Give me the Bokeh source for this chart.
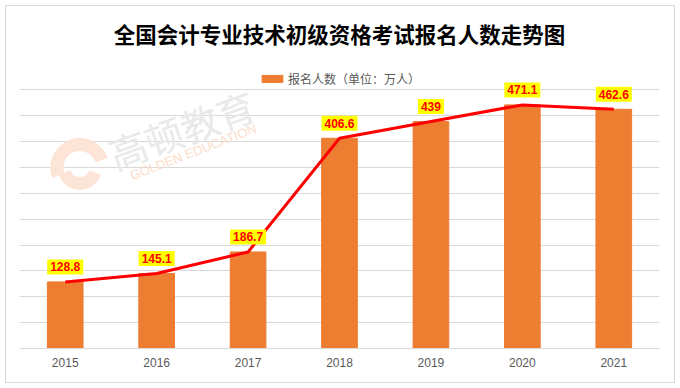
from bokeh.plotting import figure
from bokeh.models import (Range1d, FactorRange, Legend, LegendItem, SingleIntervalTicker,
                          ColumnDataSource)
from bokeh.core.properties import value
from bokeh.embed import file_html
from bokeh.resources import INLINE
import math

# ---- data ----
years = ["2015", "2016", "2017", "2018", "2019", "2020", "2021"]
applicants = [128.8, 145.1, 186.7, 406.6, 439, 471.1, 462.6]
labels = [f"{v:g}" for v in applicants]
title_text = "全国会计专业技术初级资格考试报名人数走势图"
series_name = "报名人数（单位：万人）"

src = ColumnDataSource(dict(x=years, y=applicants, t=labels))

# y range extends above 500 so that title/legend share the frame
p = figure(width=680, height=388, x_range=FactorRange(factors=years),
           y_range=Range1d(0, 673), output_backend="svg", toolbar_location=None,
           y_axis_location=None, min_border_left=19, min_border_right=21,
           min_border_top=0, min_border_bottom=40)
p.outline_line_color = None
p.background_fill_alpha = 0
p.border_fill_alpha = 0
p.styles = {"outline": "1px solid #D9D9D9", "outline-offset": "-6px",
            "background-color": "white"}

# watermark (decoration)
wm_col = "#FCE4D6"
p.annular_wedge(x=0.66, y=350, inner_radius=17, outer_radius=29,
                inner_radius_units="screen", outer_radius_units="screen",
                start_angle=math.radians(20), end_angle=math.radians(200),
                color=wm_col)
p.annular_wedge(x=0.66, y=350, inner_radius=10, outer_radius=22,
                inner_radius_units="screen", outer_radius_units="screen",
                start_angle=math.radians(200), end_angle=math.radians(340),
                color=wm_col)
p.text(x=[1.77], y=[425], text=["高顿教育"], angle=math.radians(20),
       text_align="center", text_baseline="middle", text_font=value("Noto Sans CJK SC"),
       text_font_size="38px", text_color="#E9E9E9")
p.text(x=[1.9], y=[380], text=["GOLDEN EDUCATION"], angle=math.radians(21),
       text_align="center", text_baseline="middle", text_font=value("Liberation Sans"),
       text_font_size="13px", text_color="#FCDDC9")

bars = p.vbar(x="x", top="y", width=0.39, source=src, color="#ED7D31")
p.line(x="x", y="y", source=src, color="#FF0000", line_width=3)
p.text(x="x", y="y", text="t", source=src, y_offset=-15, text_align="center",
       text_baseline="middle", text_font=value("Liberation Sans"), text_font_size="12px",
       text_font_style="bold", text_color="#FF0000",
       background_fill_color="#FFFF00", padding=3)

# title drawn as text centred over the chart
p.text(x=[3.5], y=[610], text=[title_text], text_align="center",
       text_baseline="middle", text_font=value("Noto Sans CJK SC"),
       text_font_size="21.5px", text_font_style="bold", text_color="#000000")

# axes / grid
p.xgrid.visible = False
p.ygrid.ticker = SingleIntervalTicker(interval=50)
p.ygrid.bounds = (0, 500)
p.ygrid.grid_line_color = "#D9D9D9"
p.xaxis.axis_line_color = "#D9D9D9"
p.xaxis.major_tick_line_color = None
p.xaxis.minor_tick_line_color = None
p.xaxis.major_tick_out = 0
p.xaxis.major_label_standoff = 9
p.xaxis.major_label_text_font = "Liberation Sans"
p.xaxis.major_label_text_font_size = "12px"
p.xaxis.major_label_text_color = "#595959"

legend = Legend(items=[LegendItem(label=series_name, renderers=[bars])],
                location=(240, 261), orientation="horizontal", border_line_color=None,
                background_fill_alpha=0, label_text_font="Noto Sans CJK SC",
                label_text_font_size="12px", label_text_color="#595959",
                label_height=14, glyph_width=26, glyph_height=9, padding=0, margin=0,
                label_standoff=3)
p.add_layout(legend, "center")

open("out.html", "w").write(file_html(p, INLINE))
